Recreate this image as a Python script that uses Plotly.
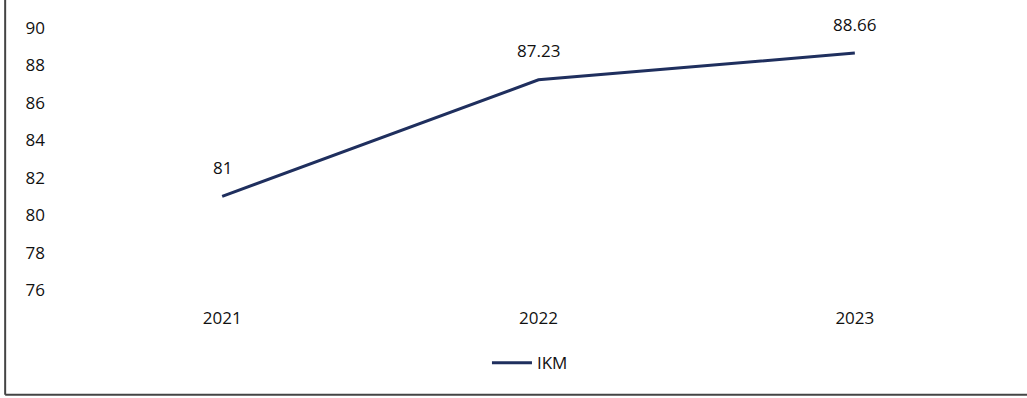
import plotly.graph_objects as go

years = ["2021", "2022", "2023"]
ikm = [81, 87.23, 88.66]
y_ticks = [76, 78, 80, 82, 84, 86, 88, 90]

FONT = "Open Sans"
NAVY = "#1f2f5e"

fig = go.Figure()
fig.add_trace(go.Scatter(
    x=years, y=ikm, name="IKM", mode="lines",
    line=dict(color=NAVY, width=3),
    cliponaxis=False,
))

annotations = [
    dict(x=i, y=y, text=f"{y:g}", showarrow=False, yshift=29, xref="x", yref="y",
         font=dict(family=FONT, size=17, color="#111"))
    for i, y in enumerate(ikm)
]

fig.update_layout(
    width=1027, height=398,
    margin=dict(l=64, r=14, t=28, b=108),
    paper_bgcolor="white", plot_bgcolor="white",
    font=dict(family=FONT, size=17, color="#111"),
    showlegend=True,
    annotations=annotations,
    legend=dict(orientation="h", x=0.491, xanchor="center", y=-0.279, yanchor="middle",
                font=dict(family=FONT, size=17, color="#111"), itemwidth=40),
    xaxis=dict(type="category", range=[-0.5, 2.5], showgrid=False, zeroline=False,
               showline=False, ticks="", tickfont=dict(size=17), ticklabelstandoff=16),
    yaxis=dict(range=[76, 90], tickvals=y_ticks, showgrid=False, zeroline=False,
               showline=False, ticks="", tickfont=dict(size=17), ticklabelstandoff=18),
    shapes=[
        dict(type="line", xref="paper", yref="paper", x0=-0.062, x1=-0.062, y0=-0.40, y1=1.12,
             line=dict(color="#444", width=2)),
        dict(type="line", xref="paper", yref="paper", x0=-0.062, x1=1.02, y0=-0.40, y1=-0.40,
             line=dict(color="#444", width=2)),
    ],
)

fig.write_html("out.html")
